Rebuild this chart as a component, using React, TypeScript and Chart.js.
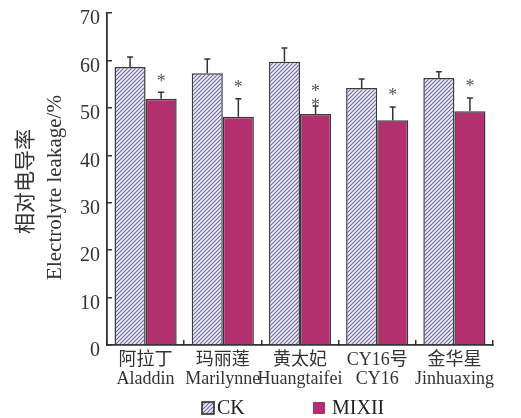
import React, { useEffect, useRef } from "react";
import { Chart, registerables } from "chart.js";

Chart.register(...registerables);

// ---- data ----
const categoriesZh = ["阿拉丁", "玛丽莲", "黄太妃", "CY16号", "金华星"];
const categoriesEn = ["Aladdin", "Marilynne", "Huangtaifei", "CY16", "Jinhuaxing"];
const seriesNames = ["CK", "MIXII"];
const ckValues = [58.6, 57.3, 59.7, 54.2, 56.3];
const ckErrors = [2.1, 3.0, 2.9, 1.9, 1.3];
const mixValues = [51.9, 48.1, 48.7, 47.4, 49.3];
const mixErrors = [1.4, 3.8, 1.7, 2.8, 2.8];
const significance = ["*", "*", "**", "*", "*"];
const yMin = 0;
const yMax = 70;
const yStep = 10;
const yTitleZh = "相对电导率";
const yTitleEn = "Electrolyte leakage/%";

const SERIF = "'Liberation Serif', 'Times New Roman', 'Noto Sans CJK SC', serif";
const CJK = "'Noto Sans CJK SC', sans-serif";
const MAGENTA = "#b3306f";
const DARK = "#333333";

function makeHatch(ctx: CanvasRenderingContext2D): CanvasPattern | string {
  const c = document.createElement("canvas");
  c.width = 4;
  c.height = 4;
  const g = c.getContext("2d");
  if (!g) return "#c8c6e0";
  g.fillStyle = "#f4f3fb";
  g.fillRect(0, 0, 4, 4);
  g.strokeStyle = "#6d68a3";
  g.lineWidth = 1.2;
  g.beginPath();
  g.moveTo(0, 4);
  g.lineTo(4, 0);
  g.moveTo(-1, 1);
  g.lineTo(1, -1);
  g.moveTo(3, 5);
  g.lineTo(5, 3);
  g.stroke();
  return ctx.createPattern(c, "repeat") || "#c8c6e0";
}

export default function App() {
  const ref = useRef<HTMLCanvasElement | null>(null);

  useEffect(() => {
    document.body.style.margin = "0";
    const canvas = ref.current;
    if (!canvas) return;
    const ctx0 = canvas.getContext("2d") as CanvasRenderingContext2D;
    const hatch = makeHatch(ctx0);

    const overlay = {
      id: "overlay",
      afterDatasetsDraw(chart: any) {
        const ctx = chart.ctx as CanvasRenderingContext2D;
        const y = chart.scales.y;
        const sets: [number[], number[]][] = [
          [ckValues, ckErrors],
          [mixValues, mixErrors],
        ];
        sets.forEach(([vals, errs], di) => {
          const meta = chart.getDatasetMeta(di);
          meta.data.forEach((bar: any, i: number) => {
            const base = y.getPixelForValue(vals[i]);
            const top = y.getPixelForValue(vals[i] + errs[i]);
            ctx.save();
            ctx.strokeStyle = DARK;
            ctx.lineWidth = 1.5;
            ctx.beginPath();
            ctx.moveTo(bar.x, base);
            ctx.lineTo(bar.x, top);
            ctx.moveTo(bar.x - 3, top);
            ctx.lineTo(bar.x + 3, top);
            ctx.stroke();
            if (di === 1) {
              const s = significance[i];
              const n = s.length;
              ctx.fillStyle = "#555555";
              ctx.font = `18px ${SERIF}`;
              ctx.textAlign = "center";
              ctx.textBaseline = "alphabetic";
              for (let k = 0; k < n; k++) {
                const cy = n === 1 ? top - 15 : top - 4 - (n - 1 - k) * 14;
                ctx.fillText("*", bar.x, cy + 9.5);
              }
            }
            ctx.restore();
          });
        });
      },
      afterDraw(chart: any) {
        const ctx = chart.ctx as CanvasRenderingContext2D;
        const area = chart.chartArea;
        // y-axis titles
        ctx.save();
        ctx.fillStyle = DARK;
        ctx.translate(24, 181.5);
        ctx.rotate(-Math.PI / 2);
        ctx.font = `21px ${CJK}`;
        ctx.textAlign = "center";
        ctx.textBaseline = "middle";
        ctx.fillText(yTitleZh, 0, 0);
        ctx.restore();

        ctx.save();
        ctx.fillStyle = DARK;
        ctx.translate(61, 187.5);
        ctx.rotate(-Math.PI / 2);
        ctx.font = `21px ${SERIF}`;
        ctx.textAlign = "center";
        ctx.textBaseline = "alphabetic";
        ctx.fillText(yTitleEn, 0, 0);
        ctx.restore();

        // legend
        const ly = area.bottom + 57;
        const items = [
          { x: area.left + 95, fill: hatch, stroke: true },
          { x: area.left + 206, fill: MAGENTA, stroke: false },
        ];
        ctx.save();
        items.forEach((it, i) => {
          ctx.fillStyle = it.fill as any;
          ctx.fillRect(it.x, ly, 12, 12);
          if (it.stroke) {
            ctx.strokeStyle = "#222";
            ctx.lineWidth = 1.5;
            ctx.strokeRect(it.x, ly, 12, 12);
          }
          ctx.fillStyle = "#222";
          ctx.font = `20px ${SERIF}`;
          ctx.textAlign = "left";
          ctx.textBaseline = "alphabetic";
          ctx.fillText(seriesNames[i], it.x + (i === 0 ? 15 : 19), ly + 12);
        });
        ctx.restore();
      },
    };

    const chart = new Chart(canvas, {
      type: "bar",
      data: {
        labels: categoriesZh.map((z, i) => [z, categoriesEn[i]]),
        datasets: [
          {
            label: seriesNames[0],
            data: ckValues,
            backgroundColor: hatch as any,
            borderColor: "#3a3a3a",
            borderWidth: 1.5,
            borderSkipped: "bottom",
            categoryPercentage: 0.805,
            barPercentage: 1.0,
          },
          {
            label: seriesNames[1],
            data: mixValues,
            backgroundColor: MAGENTA,
            borderColor: "#3a3a3a",
            borderWidth: 1.5,
            borderSkipped: "bottom",
            categoryPercentage: 0.805,
            barPercentage: 1.0,
          },
        ],
      },
      options: {
        responsive: false,
        animation: false,
        devicePixelRatio: 1,
        layout: { padding: { top: 13, right: 28, left: 0, bottom: 0 } },
        plugins: {
          legend: { display: false },
          tooltip: { enabled: false },
          title: { display: false },
        },
        scales: {
          x: {
            offset: true,
            afterFit: (s: any) => {
              s.height = 73;
              s.paddingLeft = 0;
              s.paddingRight = 0;
            },
            border: { display: true, color: DARK, width: 1.8 },
            grid: {
              offset: true,
              drawOnChartArea: false,
              drawTicks: true,
              tickLength: -5,
              color: DARK,
              lineWidth: 1.5,
            },
            ticks: {
              autoSkip: false,
              maxRotation: 0,
              minRotation: 0,
              padding: 10,
              color: DARK,
              font: { family: SERIF, size: 18, lineHeight: 1.1 },
            },
          },
          y: {
            min: yMin,
            max: yMax,
            afterFit: (s: any) => {
              s.width = 107;
              s.paddingTop = 0;
              s.paddingBottom = 0;
            },
            border: { display: true, color: DARK, width: 1.8 },
            grid: {
              drawOnChartArea: false,
              drawTicks: true,
              tickLength: -5,
              color: DARK,
              lineWidth: 1.5,
            },
            ticks: {
              stepSize: yStep,
              padding: 12,
              labelOffset: 6,
              color: DARK,
              font: { family: SERIF, size: 20 },
            },
          },
        },
      },
      plugins: [overlay],
    });

    return () => chart.destroy();
  }, []);

  return (
    <div style={{ width: 521, height: 418 }}>
      <canvas ref={ref} width={521} height={418} style={{ display: "block" }} />
    </div>
  );
}
